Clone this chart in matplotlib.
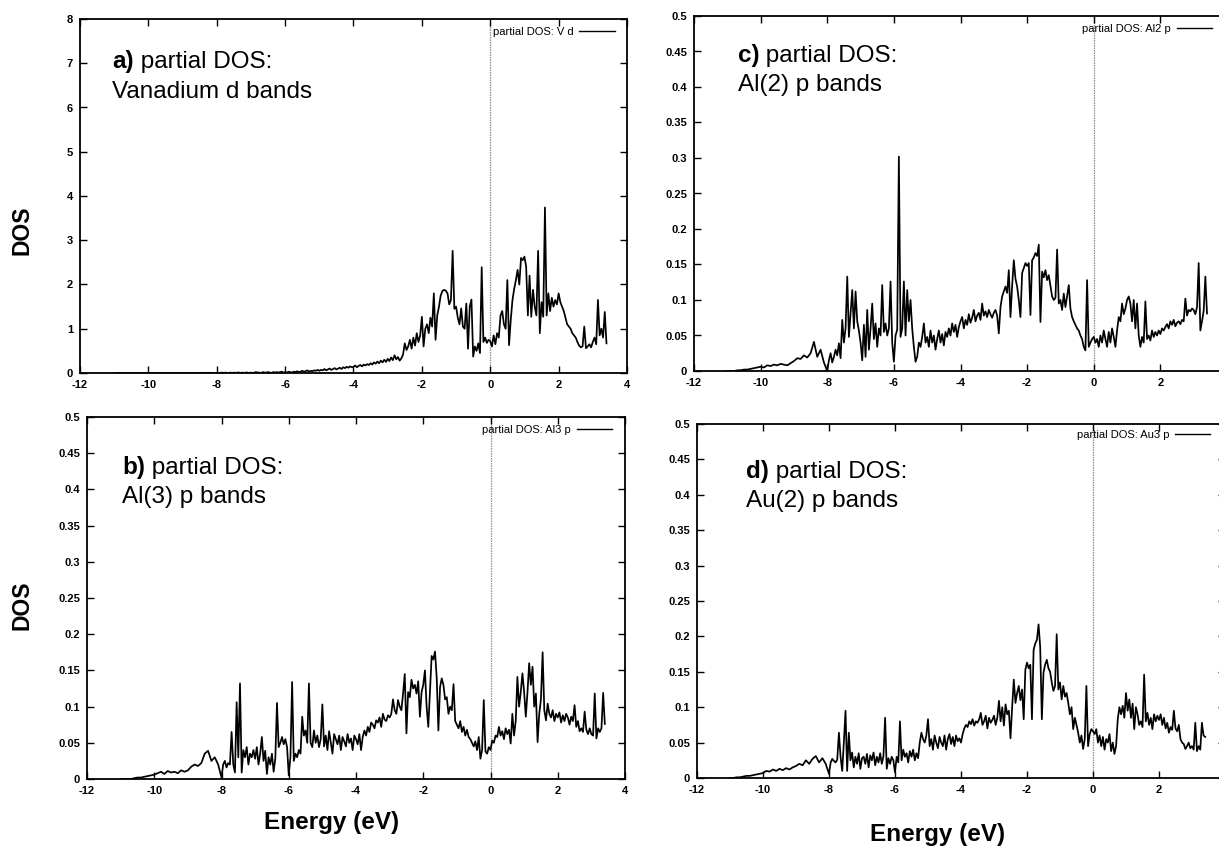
import numpy as np
import matplotlib
matplotlib.use("Agg")
import matplotlib.pyplot as plt
from matplotlib.ticker import MultipleLocator, FuncFormatter

plt.rcParams['font.family'] = ['Liberation Sans', 'DejaVu Sans']
plt.rcParams['font.weight'] = 'bold'

# ---------------- data ----------------
energy_tail = np.round(np.arange(-11.0, -8.05, 0.1), 2)    # -11.0 .. -8.1
energy_main = np.round(np.arange(-8.0, 3.4001, 0.05), 2)   # -8.0 .. 3.4
energy = np.concatenate([energy_tail, energy_main])

dos_v_d = [
    0.0, 0.0, 0.0, 0.0, 0.0, 0.0, 0.0, 0.0, 0.0, 0.0,
    0.0, 0.0, 0.0, 0.0, 0.0, 0.0, 0.0, 0.0, 0.0, 0.0,
    0.0, 0.0, 0.0, 0.0, 0.0, 0.0, 0.005, 0.0, 0.005, 0.0,
    0.0, 0.0, 0.0, 0.01, 0.0, 0.01, 0.0, 0.0, 0.01, 0.0, 0.01, 0.0, 0.01, 0.01, 0.0, 0.01, 0.0, 0.01, 0.01, 0.0,
    0.01, 0.0, 0.01, 0.02, 0.01, 0.01, 0.0, 0.02, 0.01, 0.01, 0.02, 0.01, 0.0, 0.02, 0.01, 0.02, 0.01, 0.02, 0.03, 0.01,
    0.02, 0.01, 0.03, 0.02, 0.01, 0.03, 0.02, 0.04, 0.02, 0.03, 0.05, 0.03, 0.04, 0.06, 0.03, 0.05, 0.04, 0.06, 0.05, 0.07,
    0.05, 0.07, 0.06, 0.09, 0.06, 0.08, 0.1, 0.07, 0.09, 0.11, 0.08, 0.1, 0.12, 0.09, 0.13, 0.11, 0.14, 0.12, 0.15, 0.13,
    0.14, 0.17, 0.13, 0.16, 0.18, 0.15, 0.19, 0.17, 0.2, 0.18, 0.22, 0.19, 0.24, 0.21, 0.26, 0.22, 0.28, 0.24, 0.3, 0.25,
    0.32, 0.27, 0.35, 0.29, 0.4, 0.31, 0.36, 0.28, 0.33, 0.42, 0.67, 0.52, 0.6, 0.75, 0.55, 0.8, 0.62, 0.9, 0.7, 0.85,
    1.27, 0.6, 1.0, 1.1, 0.9, 1.25, 1.05, 1.8, 0.75, 1.3, 1.5, 1.75, 1.85, 1.88, 1.86, 1.8, 1.55, 1.65, 2.76, 1.45,
    1.5, 1.25, 1.1, 1.46, 1.05, 1.0, 1.57, 0.55, 1.5, 1.66, 0.37, 0.6, 0.5, 0.67, 0.45, 2.39, 0.7, 0.8, 0.68, 0.75,
    0.72, 0.6, 0.85, 0.65, 0.9, 0.8, 1.3, 1.4, 1.1, 1.0, 2.1, 0.63, 1.2, 1.65, 1.9, 2.1, 2.33, 2.0, 2.6, 2.55,
    2.63, 2.4, 1.3, 2.2, 1.27, 1.88, 1.5, 1.3, 2.76, 0.9, 1.6, 1.27, 3.74, 1.3, 1.8, 1.4, 1.7, 1.5, 1.65, 1.55,
    1.8, 1.6, 1.5, 1.4, 1.25, 1.1, 1.05, 1.0, 0.9, 0.85, 0.8, 0.7, 0.62, 0.58, 0.6, 1.05, 0.56, 0.6, 0.65, 0.58,
    0.7, 0.8, 0.65, 1.65, 0.85, 1.0, 0.8, 1.38, 0.67,
]

dos_al2_p = [
    0.0, 0.0, 0.0, 0.001, 0.001, 0.002, 0.002, 0.003, 0.004, 0.005,
    0.006, 0.005, 0.008, 0.007, 0.009, 0.008, 0.01, 0.009, 0.008, 0.011,
    0.014, 0.018, 0.017, 0.022, 0.019, 0.025, 0.041, 0.02, 0.03, 0.012,
    0.0, 0.015, 0.025, 0.012, 0.02, 0.03, 0.022, 0.039, 0.018, 0.072, 0.04, 0.06, 0.133, 0.048, 0.08, 0.114, 0.06, 0.112, 0.07, 0.057,
    0.04, 0.015, 0.065, 0.02, 0.086, 0.03, 0.06, 0.095, 0.045, 0.067, 0.034, 0.06, 0.05, 0.121, 0.055, 0.067, 0.05, 0.06, 0.126, 0.04,
    0.013, 0.05, 0.058, 0.302, 0.048, 0.06, 0.126, 0.05, 0.114, 0.07, 0.1, 0.06, 0.034, 0.013, 0.02, 0.04, 0.034, 0.048, 0.067, 0.04,
    0.048, 0.034, 0.057, 0.04, 0.05, 0.03, 0.045, 0.057, 0.04, 0.052, 0.036, 0.055, 0.048, 0.06, 0.05, 0.067, 0.055, 0.065, 0.048, 0.062,
    0.07, 0.076, 0.06, 0.072, 0.065, 0.08, 0.068, 0.075, 0.086, 0.07, 0.078, 0.082, 0.072, 0.095, 0.078, 0.084, 0.076, 0.086, 0.08, 0.075,
    0.082, 0.086, 0.078, 0.053, 0.09, 0.105, 0.112, 0.119, 0.11, 0.142, 0.076, 0.12, 0.156, 0.13, 0.119, 0.1, 0.076, 0.138, 0.145, 0.152,
    0.148, 0.152, 0.079, 0.156, 0.16, 0.166, 0.162, 0.178, 0.069, 0.14, 0.132, 0.142, 0.128, 0.135, 0.12, 0.105, 0.1, 0.103, 0.171, 0.095,
    0.1, 0.086, 0.109, 0.09, 0.105, 0.121, 0.088, 0.076, 0.07, 0.065, 0.06, 0.057, 0.05, 0.045, 0.034, 0.029, 0.128, 0.034, 0.04, 0.045,
    0.048, 0.04, 0.045, 0.034, 0.05, 0.04, 0.057, 0.045, 0.034, 0.055, 0.04, 0.06, 0.048, 0.034, 0.057, 0.076, 0.07, 0.095, 0.08, 0.088,
    0.1, 0.105, 0.095, 0.07, 0.1, 0.06, 0.095, 0.05, 0.034, 0.048, 0.04, 0.098, 0.045, 0.05, 0.043, 0.057, 0.048, 0.055, 0.05, 0.057,
    0.052, 0.06, 0.057, 0.062, 0.066, 0.06, 0.07, 0.065, 0.072, 0.063, 0.068, 0.07, 0.066, 0.072, 0.07, 0.102, 0.078, 0.086, 0.084, 0.088,
    0.086, 0.08, 0.09, 0.152, 0.057, 0.07, 0.085, 0.133, 0.081,
]

dos_al3_p = [
    0.0, 0.0, 0.0, 0.0, 0.001, 0.002, 0.002, 0.003, 0.004, 0.005,
    0.006, 0.008, 0.01, 0.007, 0.011, 0.009, 0.01, 0.008, 0.012, 0.01,
    0.012, 0.017, 0.02, 0.018, 0.022, 0.035, 0.039, 0.025, 0.03, 0.02,
    0.002, 0.02, 0.025, 0.016, 0.022, 0.02, 0.065, 0.02, 0.009, 0.106, 0.03, 0.132, 0.009, 0.04, 0.03, 0.044, 0.02, 0.035, 0.03, 0.04,
    0.028, 0.044, 0.02, 0.035, 0.058, 0.025, 0.039, 0.007, 0.03, 0.02, 0.035, 0.01, 0.028, 0.105, 0.044, 0.05, 0.058, 0.048, 0.055, 0.044,
    0.005, 0.03, 0.134, 0.025, 0.035, 0.03, 0.04, 0.035, 0.086, 0.06, 0.067, 0.05, 0.132, 0.05, 0.044, 0.067, 0.05, 0.06, 0.044, 0.055,
    0.103, 0.045, 0.06, 0.04, 0.066, 0.05, 0.035, 0.062, 0.055, 0.048, 0.06, 0.04, 0.058, 0.052, 0.045, 0.062, 0.05, 0.056, 0.04, 0.06,
    0.055, 0.048, 0.062, 0.04, 0.058, 0.067, 0.06, 0.072, 0.065, 0.078, 0.075, 0.07, 0.081, 0.078, 0.085, 0.072, 0.09, 0.082, 0.08, 0.088,
    0.085, 0.09, 0.11, 0.095, 0.09, 0.109, 0.1, 0.095, 0.118, 0.145, 0.063, 0.12, 0.113, 0.137, 0.125, 0.13, 0.118, 0.135, 0.086, 0.12,
    0.13, 0.15, 0.1, 0.072, 0.12, 0.17, 0.165, 0.176, 0.14, 0.067, 0.127, 0.139, 0.13, 0.11, 0.113, 0.09, 0.1, 0.095, 0.131, 0.08,
    0.075, 0.07, 0.08, 0.065, 0.072, 0.06, 0.068, 0.058, 0.055, 0.05, 0.045, 0.052, 0.04, 0.058, 0.028, 0.04, 0.109, 0.038, 0.035, 0.044,
    0.04, 0.053, 0.05, 0.06, 0.058, 0.072, 0.06, 0.066, 0.055, 0.07, 0.062, 0.068, 0.049, 0.09, 0.06, 0.08, 0.141, 0.1, 0.12, 0.146,
    0.12, 0.086, 0.12, 0.16, 0.13, 0.155, 0.1, 0.118, 0.051, 0.09, 0.11, 0.175, 0.095, 0.081, 0.104, 0.09, 0.085, 0.095, 0.08, 0.09,
    0.085, 0.092, 0.078, 0.088, 0.08, 0.09, 0.085, 0.075, 0.086, 0.08, 0.102, 0.072, 0.08, 0.066, 0.07, 0.065, 0.093, 0.068, 0.062, 0.07,
    0.062, 0.06, 0.118, 0.056, 0.07, 0.065, 0.07, 0.119, 0.076,
]

dos_au3_p = [
    0.0, 0.0, 0.001, 0.001, 0.002, 0.003, 0.003, 0.004, 0.005, 0.006,
    0.007, 0.01, 0.009, 0.012, 0.01, 0.013, 0.011, 0.014, 0.012, 0.015,
    0.017, 0.02, 0.018, 0.025, 0.02, 0.027, 0.031, 0.022, 0.028, 0.02,
    0.006, 0.022, 0.027, 0.024, 0.022, 0.026, 0.064, 0.03, 0.01, 0.05, 0.095, 0.01, 0.064, 0.025, 0.036, 0.015, 0.03, 0.02, 0.035, 0.013,
    0.028, 0.03, 0.02, 0.034, 0.015, 0.032, 0.025, 0.036, 0.018, 0.03, 0.022, 0.035, 0.02, 0.031, 0.085, 0.013, 0.028, 0.02, 0.03, 0.025,
    0.008, 0.03, 0.022, 0.08, 0.025, 0.04, 0.03, 0.035, 0.022, 0.038, 0.03, 0.04, 0.025, 0.035, 0.028, 0.05, 0.064, 0.055, 0.05, 0.06,
    0.083, 0.045, 0.055, 0.04, 0.06, 0.05, 0.042, 0.058, 0.05, 0.045, 0.06, 0.04, 0.055, 0.062, 0.048, 0.058, 0.045, 0.06, 0.052, 0.056,
    0.05, 0.062, 0.07, 0.075, 0.072, 0.08, 0.076, 0.083, 0.074, 0.08, 0.078, 0.083, 0.092, 0.075, 0.08, 0.088, 0.07, 0.085, 0.078, 0.082,
    0.088, 0.075, 0.085, 0.109, 0.08, 0.1, 0.074, 0.104, 0.09, 0.095, 0.056, 0.1, 0.139, 0.106, 0.12, 0.13, 0.11, 0.125, 0.083, 0.153,
    0.163, 0.155, 0.16, 0.083, 0.181, 0.19, 0.195, 0.217, 0.185, 0.083, 0.149, 0.16, 0.167, 0.155, 0.15, 0.135, 0.123, 0.13, 0.203, 0.125,
    0.135, 0.111, 0.13, 0.115, 0.12, 0.106, 0.09, 0.1, 0.069, 0.085, 0.075, 0.064, 0.05, 0.06, 0.041, 0.055, 0.13, 0.045, 0.062, 0.069,
    0.066, 0.062, 0.069, 0.05, 0.06, 0.045, 0.058, 0.04, 0.055, 0.05, 0.062, 0.038, 0.05, 0.034, 0.045, 0.083, 0.1, 0.09, 0.102, 0.085,
    0.12, 0.095, 0.111, 0.085, 0.105, 0.069, 0.1, 0.09, 0.075, 0.08, 0.072, 0.146, 0.08, 0.092, 0.075, 0.085, 0.069, 0.09, 0.08, 0.088,
    0.082, 0.09, 0.075, 0.085, 0.07, 0.078, 0.064, 0.072, 0.068, 0.095, 0.07, 0.066, 0.075, 0.055, 0.05, 0.048, 0.041, 0.045, 0.05, 0.042,
    0.045, 0.04, 0.078, 0.038, 0.045, 0.04, 0.078, 0.06, 0.058,
]

legend_labels = ["partial DOS: V d", "partial DOS: Al3 p", "partial DOS: Al2 p", "partial DOS: Au3 p"]
tag_labels = ["a)", "b)", "c)", "d)"]
title_lines = ["Vanadium d bands", "Al(3) p bands", "Al(2) p bands", "Au(2) p bands"]
x_ticks = [-12, -10, -8, -6, -4, -2, 0, 2, 4]

# ---------------- layout (pixel boxes: left, top, right, bottom) ----------------
W, H = 1219, 846
fig = plt.figure(figsize=(W / 100, H / 100), dpi=100)
fig.patch.set_facecolor('white')

boxes = [(80, 19, 627, 373), (87, 417, 625, 779), (694, 16, 1227, 371), (697, 424, 1225, 778)]
series = [dos_v_d, dos_al3_p, dos_al2_p, dos_au3_p]
ylims = [(0, 8, 1.0), (0, 0.5, 0.05), (0, 0.5, 0.05), (0, 0.5, 0.05)]
text_pos = [(0.0585, 0.862, 0.777), (0.065, 0.842, 0.762), (0.082, 0.870, 0.789), (0.093, 0.847, 0.766)]
leg_pos = [(0.978, 0.963), (0.976, 0.964), (0.972, 0.963), (0.972, 0.969)]
cropped_right = [False, False, True, True]


def fmt(v, p):
    return f"{round(v, 2):g}"


def fmt_cropped(v, p):
    # the right-most label falls outside the cropped picture
    return "" if v > 3.5 else f"{round(v, 2):g}"


for i, (box, vals) in enumerate(zip(boxes, series)):
    l, t, r, b = box
    ax = fig.add_axes([l / W, 1 - b / H, (r - l) / W, (b - t) / H])
    n = min(len(energy), len(vals))
    ax.plot(energy[:n], vals[:n], color='black', lw=1.25, label=legend_labels[i])
    ax.axvline(0, color='#8c8c8c', lw=0.9, ls=(0, (1.2, 0.8)), zorder=0)
    y0, y1, ystep = ylims[i]
    ax.set_xlim(-12, 4)
    ax.set_ylim(y0, y1)
    ax.set_xticks(x_ticks)
    ax.yaxis.set_major_locator(MultipleLocator(ystep))
    ax.yaxis.set_major_formatter(FuncFormatter(fmt))
    ax.xaxis.set_major_formatter(FuncFormatter(fmt_cropped if cropped_right[i] else fmt))
    ax.tick_params(direction='in', top=True, right=True, length=5, width=1.0,
                   labelsize=8, pad=5, colors='black')
    for s in ax.spines.values():
        s.set_linewidth(1.3)
    leg = ax.legend(loc='center right', bbox_to_anchor=leg_pos[i], frameon=False,
                    markerfirst=False, handlelength=3.2, handletextpad=0.5,
                    borderaxespad=0, borderpad=0,
                    prop={'size': 8, 'weight': 'normal'})
    for line in leg.get_lines():
        line.set_linewidth(1.0)
    tx, ty1, ty2 = text_pos[i]
    t1 = ax.text(tx, ty1, tag_labels[i], transform=ax.transAxes, fontsize=17.5,
                 fontweight='bold', ha='left', va='baseline')
    ax.annotate(" partial DOS:", xy=(1, 0), xycoords=t1, xytext=(0, 0),
                textcoords='offset points', fontsize=17.5, fontweight='normal',
                ha='left', va='bottom')
    ax.text(tx, ty2, title_lines[i], transform=ax.transAxes, fontsize=17.5,
            fontweight='normal', ha='left', va='baseline')

fig.text(22 / W, 1 - 230 / H, "DOS", rotation=90, ha='center', va='center',
         fontsize=16.5, fontweight='bold')
fig.text(22 / W, 1 - 605 / H, "DOS", rotation=90, ha='center', va='center',
         fontsize=16.5, fontweight='bold')
fig.text(332 / W, 1 - 822 / H, "Energy (eV)", ha='center', va='center',
         fontsize=17.5, fontweight='bold')
fig.text(938 / W, 1 - 834 / H, "Energy (eV)", ha='center', va='center',
         fontsize=17.5, fontweight='bold')

fig.savefig("out.png", dpi=100, facecolor='white')
